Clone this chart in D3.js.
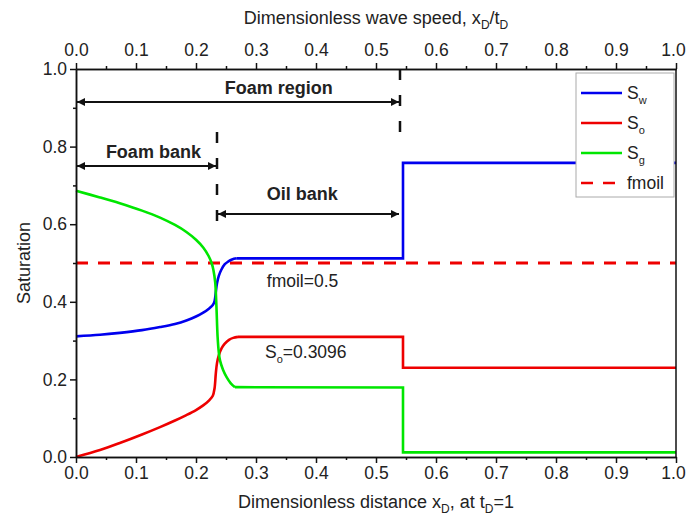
<!DOCTYPE html>
<html>
<head>
<meta charset="utf-8">
<script src="https://cdn.jsdelivr.net/npm/d3@7"></script>
<style>
  body { margin: 0; background: #fff; }
  text { font-family: "Liberation Sans", Arial, sans-serif; fill: #222; }
</style>
</head>
<body>
<div id="chart"></div>
<script>
// saturation profiles (x = xD at tD=1)
const soPlateau = 0.3096;

const swX = [0, 0.04, 0.073, 0.11, 0.14, 0.165, 0.184, 0.2, 0.212, 0.222, 0.228, 0.231, 0.233, 0.235, 0.238, 0.242, 0.248, 0.254, 0.26, 0.268, 0.545, 0.545, 1];
const swY = [0.311, 0.315, 0.32, 0.327, 0.335, 0.343, 0.352, 0.362, 0.372, 0.383, 0.392, 0.402, 0.425, 0.448, 0.467, 0.482, 0.497, 0.504, 0.509, 0.512, 0.512, 0.758, 0.758];

const soX = [0, 0.04, 0.073, 0.11, 0.14, 0.165, 0.184, 0.2, 0.212, 0.222, 0.228, 0.231, 0.233, 0.235, 0.238, 0.243, 0.248, 0.255, 0.262, 0.27, 0.545, 0.545, 1];
const soY = [0, 0.018, 0.036, 0.058, 0.077, 0.094, 0.108, 0.121, 0.133, 0.146, 0.158, 0.178, 0.215, 0.242, 0.262, 0.281, 0.292, 0.302, 0.307, 0.3096, 0.3096, 0.23, 0.23];

const sgX = [0, 0.04, 0.073, 0.11, 0.14, 0.165, 0.184, 0.2, 0.212, 0.221, 0.226, 0.229, 0.232, 0.234, 0.236, 0.238, 0.24, 0.245, 0.251, 0.258, 0.265, 0.545, 0.545, 1];
const sgY = [0.686, 0.669, 0.654, 0.635, 0.617, 0.598, 0.58, 0.56, 0.54, 0.518, 0.5, 0.482, 0.45, 0.39, 0.31, 0.27, 0.249, 0.225, 0.206, 0.19, 0.18, 0.179, 0.012, 0.012];

const fmoil = 0.5;
const foamBankEnd = 0.235;
const foamRegionEnd = 0.54;
const xTicks = [0, 0.1, 0.2, 0.3, 0.4, 0.5, 0.6, 0.7, 0.8, 0.9, 1.0];
const xMinor = [0.05, 0.15, 0.25, 0.35, 0.45, 0.55, 0.65, 0.75, 0.85, 0.95];
const yTicks = [0, 0.2, 0.4, 0.6, 0.8, 1.0];
const yMinor = [0.1, 0.3, 0.5, 0.7, 0.9];

const width = 687;
const height = 520;
const margin = {top: 69, right: 11, bottom: 63, left: 76};

const svg = d3.select("#chart")
    .append("svg")
    .attr("width", width)
    .attr("height", height);

const x = d3.scaleLinear().domain([0, 1]).range([margin.left, width - margin.right]);
const y = d3.scaleLinear().domain([0, 1]).range([height - margin.bottom, margin.top]);

// series
const series = [
    {name: "w", xs: swX, ys: swY, color: "#0000ee"},
    {name: "o", xs: soX, ys: soY, color: "#ee0000"},
    {name: "g", xs: sgX, ys: sgY, color: "#00e600"},
];

const smooth = d3.line().x(d => x(d[0])).y(d => y(d[1])).curve(d3.curveCatmullRom.alpha(0.5));
const straight = d3.line().x(d => x(d[0])).y(d => y(d[1]));

// fmoil dashed line
svg.append("line")
    .attr("x1", x(0)).attr("x2", x(1))
    .attr("y1", y(fmoil)).attr("y2", y(fmoil))
    .attr("stroke", "#ee0000")
    .attr("stroke-width", 3)
    .attr("stroke-dasharray", "12,10");

series.forEach(s => {
    const pts = s.xs.map((v, i) => [v, s.ys[i]]);
    // smooth part up to the plateau, then straight plateau + shock
    const jump = s.xs.findIndex((v, i) => i > 0 && v === s.xs[i - 1]);
    svg.append("path")
        .attr("d", smooth(pts.slice(0, jump - 1)))
        .attr("fill", "none")
        .attr("stroke", s.color)
        .attr("stroke-width", 2.6);
    svg.append("path")
        .attr("d", straight(pts.slice(jump - 2)))
        .attr("fill", "none")
        .attr("stroke", s.color)
        .attr("stroke-width", 2.6)
        .attr("stroke-linejoin", "miter");
});

// axes
function styleAxis(g) {
    g.select(".domain").attr("stroke", "#111").attr("stroke-width", 1.5);
    g.selectAll(".tick line").attr("stroke", "#111").attr("stroke-width", 1.5);
    g.selectAll(".tick text").style("font-size", "17.5px").attr("fill", "#222");
}

// keep the last x label inside the window
function nudgeLast(g) {
    g.selectAll(".tick text").filter(d => d === 1).attr("dx", -3);
}

svg.append("g")
    .attr("transform", `translate(0,${y(0)})`)
    .call(d3.axisBottom(x).tickValues(xTicks).tickFormat(d3.format(".1f")).tickSize(6).tickSizeOuter(0).tickPadding(4))
    .call(styleAxis)
    .call(nudgeLast);
svg.append("g")
    .attr("transform", `translate(0,${y(0)})`)
    .call(d3.axisBottom(x).tickValues(xMinor).tickFormat("").tickSize(3).tickSizeOuter(0))
    .call(styleAxis);

svg.append("g")
    .attr("transform", `translate(0,${y(1)})`)
    .call(d3.axisTop(x).tickValues(xTicks).tickFormat(d3.format(".1f")).tickSize(6).tickSizeOuter(0).tickPadding(7))
    .call(styleAxis)
    .call(nudgeLast);
svg.append("g")
    .attr("transform", `translate(0,${y(1)})`)
    .call(d3.axisTop(x).tickValues(xMinor).tickFormat("").tickSize(3).tickSizeOuter(0))
    .call(styleAxis);

svg.append("g")
    .attr("transform", `translate(${x(0)},0)`)
    .call(d3.axisLeft(y).tickValues(yTicks).tickFormat(d3.format(".1f")).tickSize(6).tickSizeOuter(0).tickPadding(3))
    .call(styleAxis);
svg.append("g")
    .attr("transform", `translate(${x(0)},0)`)
    .call(d3.axisLeft(y).tickValues(yMinor).tickFormat("").tickSize(3).tickSizeOuter(0))
    .call(styleAxis);

// right border
svg.append("line")
    .attr("x1", x(1)).attr("x2", x(1))
    .attr("y1", y(0)).attr("y2", y(1))
    .attr("stroke", "#111").attr("stroke-width", 1.5);

// axis titles
const topTitle = svg.append("text")
    .attr("x", (x(0) + x(1)) / 2)
    .attr("y", 24)
    .attr("text-anchor", "middle")
    .style("font-size", "18px");
topTitle.append("tspan").text("Dimensionless wave speed, x");
topTitle.append("tspan").attr("dy", 5).style("font-size", "12px").text("D");
topTitle.append("tspan").attr("dy", -5).text("/t");
topTitle.append("tspan").attr("dy", 5).style("font-size", "12px").text("D");

const bottomTitle = svg.append("text")
    .attr("x", (x(0) + x(1)) / 2)
    .attr("y", 508)
    .attr("text-anchor", "middle")
    .style("font-size", "18px");
bottomTitle.append("tspan").text("Dimensionless distance x");
bottomTitle.append("tspan").attr("dy", 5).style("font-size", "12px").text("D");
bottomTitle.append("tspan").attr("dy", -5).text(", at t");
bottomTitle.append("tspan").attr("dy", 5).style("font-size", "12px").text("D");
bottomTitle.append("tspan").attr("dy", -5).text("=1");

svg.append("text")
    .attr("transform", `translate(30,${(y(0) + y(1)) / 2}) rotate(-90)`)
    .attr("text-anchor", "middle")
    .style("font-size", "18px")
    .text("Saturation");

// region annotations
const defs = svg.append("defs");
defs.append("marker")
    .attr("id", "arrow")
    .attr("viewBox", "0 0 10 10")
    .attr("refX", 10).attr("refY", 5)
    .attr("markerWidth", 10).attr("markerHeight", 8)
    .attr("markerUnits", "userSpaceOnUse")
    .attr("orient", "auto-start-reverse")
    .append("path")
    .attr("d", "M0,0 L10,5 L0,10 Z")
    .attr("fill", "#111");

function span(x0, x1, yy) {
    svg.append("line")
        .attr("x1", x(x0) + 1).attr("x2", x(x1) - 1)
        .attr("y1", yy).attr("y2", yy)
        .attr("stroke", "#111").attr("stroke-width", 2)
        .attr("marker-start", "url(#arrow)")
        .attr("marker-end", "url(#arrow)");
}

function divider(xv, y0, y1) {
    svg.append("line")
        .attr("x1", x(xv)).attr("x2", x(xv))
        .attr("y1", y0).attr("y2", y1)
        .attr("stroke", "#111").attr("stroke-width", 2.5)
        .attr("stroke-dasharray", "11,15");
}

divider(foamRegionEnd, y(1), 138);
divider(foamBankEnd, 132, 222);

span(0, foamRegionEnd, 102);
span(0, foamBankEnd, 166);
span(foamBankEnd, foamRegionEnd, 214);

function label(txt, xv, yy) {
    svg.append("text")
        .attr("x", x(xv)).attr("y", yy)
        .attr("text-anchor", "middle")
        .style("font-size", "18px")
        .style("font-weight", "bold")
        .text(txt);
}
label("Foam region", 0.338, 94);
label("Foam bank", 0.129, 158);
label("Oil bank", 0.377, 200);

svg.append("text")
    .attr("x", x(0.318)).attr("y", 287)
    .style("font-size", "17.5px")
    .text("fmoil=" + fmoil);

const soLabel = svg.append("text")
    .attr("x", x(0.315)).attr("y", 358)
    .style("font-size", "17.5px");
soLabel.append("tspan").text("S");
soLabel.append("tspan").attr("dy", 5).style("font-size", "11px").text("o");
soLabel.append("tspan").attr("dy", -5).text("=" + soPlateau);

// legend
const legend = svg.append("g").attr("transform", "translate(576,73)");
legend.append("rect")
    .attr("width", 98).attr("height", 124)
    .attr("fill", "#fff")
    .attr("stroke", "#aaa").attr("stroke-width", 1);

const legendItems = [
    {color: "#0000ee", sub: "w", dash: null},
    {color: "#ee0000", sub: "o", dash: null},
    {color: "#00e600", sub: "g", dash: null},
    {color: "#ee0000", text: "fmoil", dash: "12,10"},
];

const li = legend.selectAll(".item")
    .data(legendItems)
    .join("g")
    .attr("class", "item")
    .attr("transform", (d, i) => `translate(0,${20 + i * 30})`);

li.append("line")
    .attr("x1", 5).attr("x2", 46)
    .attr("stroke", d => d.color)
    .attr("stroke-width", 2.6)
    .attr("stroke-dasharray", d => d.dash);

li.each(function(d) {
    const t = d3.select(this).append("text")
        .attr("x", 51).attr("y", 6)
        .style("font-size", "17.5px");
    if (d.text) {
        t.text(d.text);
    } else {
        t.append("tspan").text("S");
        t.append("tspan").attr("dy", 5).style("font-size", "11px").text(d.sub);
    }
});
</script>
</body>
</html>
